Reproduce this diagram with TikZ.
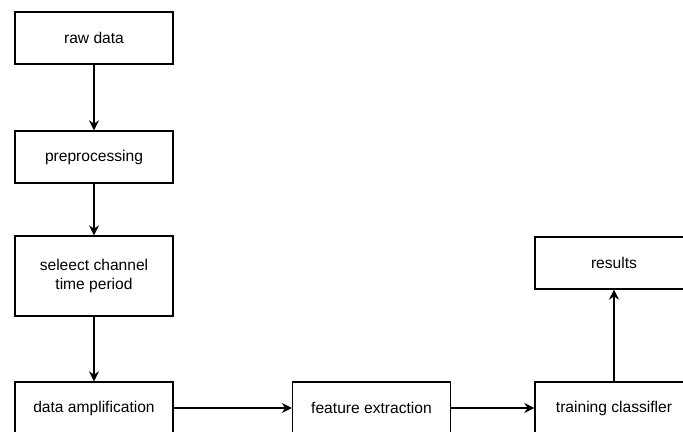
\documentclass[tikz,border=0pt]{standalone}
\usepackage{fontspec}
\setmainfont{Liberation Sans}
\usepackage{tikz}
\usetikzlibrary{arrows.meta}

\begin{document}
\begin{tikzpicture}[x=0.75pt,y=-0.75pt,
   box/.style={draw=black, fill=white, line width=1pt, minimum width=118.5pt, minimum height=39pt, inner sep=0pt, align=center, font=\fontsize{11.7}{14}\selectfont},
   arr/.style={-{Stealth[length=7.5pt,width=7.5pt,inset=2.5pt]}, line width=1.1pt}]
   \useasboundingbox (0,0) rectangle (683,432);

   \node[box] (raw) at (94,38) {raw data};
   \node[box] (pre) at (94,157) {preprocessing};
   \node[box, minimum height=60pt] (sel) at (94,276) {seleect channel\\time period};
   \node[box] (amp) at (94,408) {data amplification};
   \node[box] (feat) at (371.5,408) {feature extraction};
   \node[box] (train) at (614,408) {training classifler};
   \node[box] (res) at (614,263) {results};

   \draw[arr] (raw) -- (pre);
   \draw[arr] (pre) -- (sel);
   \draw[arr] (sel) -- (amp);
   \draw[arr] (amp) -- (feat);
   \draw[arr] (feat) -- (train);
   \draw[arr] (train) -- (res);
\end{tikzpicture}
\end{document}
